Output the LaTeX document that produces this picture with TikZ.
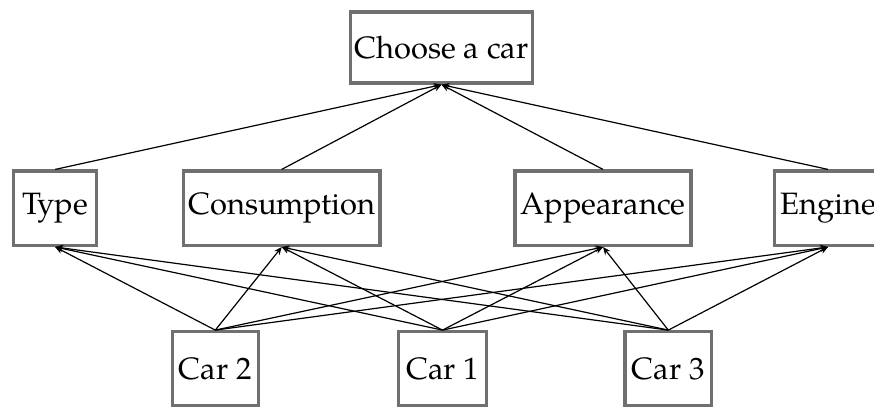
\documentclass[tikz,border=0pt]{standalone}
\usepackage{fontspec}
\setmainfont{TeX Gyre Pagella}
\usetikzlibrary{arrows.meta}
\tikzset{
  box/.style={draw=black!56, line width=1.1pt, fill=white, inner sep=0pt,
    minimum height={74.3pt/3}, font=\fontsize{10.3}{12}\selectfont},
  link/.style={line width=0.4pt, -{Stealth[length=2.6pt,width=2.2pt]}},
}
\begin{document}
\begin{tikzpicture}[x=0.33333pt, y=-0.33333pt]
\useasboundingbox (0,0) rectangle (874,406);
\node[box, minimum width={182.4pt/3}, minimum height={71pt/3}] (choose) at (441.5,47.5) {Choose a car};
\node[box, minimum width={83pt/3}] (type) at (55.2,208.2) {Type};
\node[box, minimum width={196.7pt/3}] (cons) at (281.7,208.2) {Consumption};
\node[box, minimum width={176pt/3}] (app) at (603,208.2) {Appearance};
\node[box, minimum width={107.4pt/3}] (eng) at (828,208.2) {Engine};
\node[box, minimum width={86pt/3}] (car2) at (215.3,368.9) {Car 2};
\node[box, minimum width={88.4pt/3}] (car1) at (442.5,368.9) {Car 1};
\node[box, minimum width={86.7pt/3}] (car3) at (668.3,368.9) {Car 3};
\foreach \a in {type,cons,app,eng}{
  \draw[link] (\a.north) -- (choose.south);
  \foreach \c in {car1,car2,car3}{
    \draw[link] (\c.north) -- (\a.south);
  }
}
\end{tikzpicture}
\end{document}
